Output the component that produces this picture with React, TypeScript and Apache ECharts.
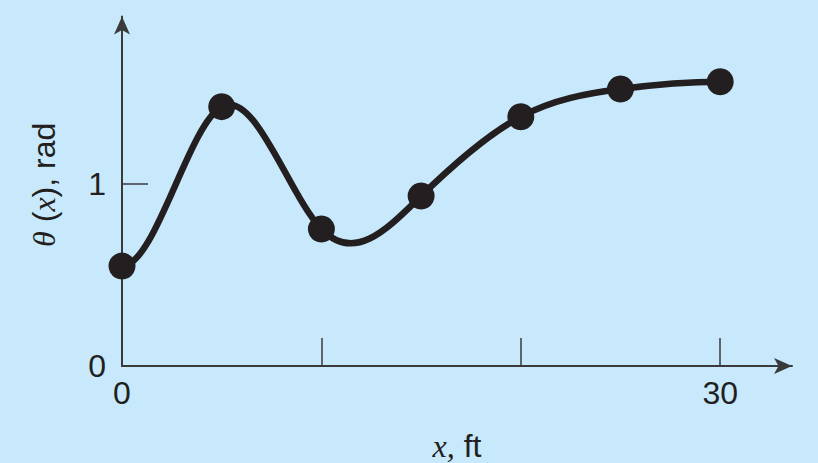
import React, { useEffect, useRef } from "react";
import * as echarts from "echarts";

const xValues = [0, 5, 10, 15, 20, 25, 30];
const thetaValues = [0.549, 1.425, 0.753, 0.934, 1.37, 1.522, 1.562];
const endSlopes = [0, 0];
const xTickValues = [10, 20, 30];
const xLabelValues = [0, 30];
const yTickValues = [1];
const yLabelValues = [0, 1];

const INK = "#231f20";
const AXIS = "#3a3a3a";
const BG = "#c7e9fb";

// clamped cubic spline: slope at each knot
function splineSlopes(xs: number[], ys: number[], s0: number, sn: number): number[] {
  const n = xs.length - 1;
  const h: number[] = [];
  for (let i = 0; i < n; i++) h.push(xs[i + 1] - xs[i]);
  const a: number[] = [], b: number[] = [], c: number[] = [], d: number[] = [];
  a.push(0); b.push(2 * h[0]); c.push(h[0]);
  d.push(6 * ((ys[1] - ys[0]) / h[0] - s0));
  for (let i = 1; i < n; i++) {
    a.push(h[i - 1]);
    b.push(2 * (h[i - 1] + h[i]));
    c.push(h[i]);
    d.push(6 * ((ys[i + 1] - ys[i]) / h[i] - (ys[i] - ys[i - 1]) / h[i - 1]));
  }
  a.push(h[n - 1]); b.push(2 * h[n - 1]); c.push(0);
  d.push(6 * (sn - (ys[n] - ys[n - 1]) / h[n - 1]));
  const m = b.length;
  const cp: number[] = [], dp: number[] = [];
  for (let i = 0; i < m; i++) {
    const den = b[i] - (i > 0 ? a[i] * cp[i - 1] : 0);
    cp.push(c[i] / den);
    dp.push((d[i] - (i > 0 ? a[i] * dp[i - 1] : 0)) / den);
  }
  const M = new Array(m).fill(0);
  for (let i = m - 1; i >= 0; i--) {
    M[i] = dp[i] - (i < m - 1 ? cp[i] * M[i + 1] : 0);
  }
  const slopes: number[] = [];
  for (let i = 0; i < n; i++) {
    slopes.push((ys[i + 1] - ys[i]) / h[i] - (h[i] / 6) * (2 * M[i] + M[i + 1]));
  }
  slopes.push((ys[n] - ys[n - 1]) / h[n - 1] + (h[n - 1] / 6) * (M[n - 1] + 2 * M[n]));
  return slopes;
}

export default function App() {
  const ref = useRef<HTMLDivElement>(null);
  useEffect(() => {
    if (!ref.current) return;
    const chart = echarts.init(ref.current, undefined, { renderer: "svg" });
    const slopes = splineSlopes(xValues, thetaValues, endSlopes[0], endSlopes[1]);
    const points = xValues.map((x, i) => [x, thetaValues[i]]);
    chart.setOption({
      animation: false,
      backgroundColor: BG,
      textStyle: { fontFamily: "'Liberation Sans', Arial, sans-serif" },
      grid: {
        left: 122,
        right: 26,
        top: 16.6,
        bottom: 97,
        containLabel: false,
        outerBoundsMode: "none",
      },
      xAxis: {
        type: "value",
        min: 0,
        max: 33.6,
        name: "{i|x,} ft",
        nameLocation: "middle",
        nameGap: 64,
        nameTextStyle: {
          fontSize: 32,
          color: INK,
          fontFamily: "'Liberation Sans', Arial, sans-serif",
          rich: {
            i: {
              fontSize: 32,
              color: INK,
              fontStyle: "italic",
              fontFamily: "'Liberation Serif', 'Times New Roman', serif",
            },
          },
        },
        axisLine: {
          show: true,
          onZero: false,
          symbol: ["none", "arrow"],
          symbolSize: [12, 18],
          lineStyle: { color: AXIS, width: 2 },
        },
        axisTick: {
          show: true,
          inside: true,
          length: 28,
          customValues: xTickValues,
          lineStyle: { color: AXIS, width: 1.5 },
        },
        axisLabel: {
          customValues: xLabelValues,
          fontSize: 32,
          color: INK,
          margin: 11,
        },
        splitLine: { show: false },
      },
      yAxis: {
        type: "value",
        min: 0,
        max: 1.92,
        name: "{i|θ} ({i|x}), rad",
        nameLocation: "middle",
        nameRotate: 90,
        nameGap: 62,
        nameTextStyle: {
          fontSize: 32,
          color: INK,
          fontFamily: "'Liberation Sans', Arial, sans-serif",
          padding: [0, 0, 0, 13],
          rich: {
            i: {
              fontSize: 32,
              color: INK,
              fontStyle: "italic",
              fontFamily: "'Liberation Serif', 'Times New Roman', serif",
            },
          },
        },
        axisLine: {
          show: true,
          onZero: false,
          symbol: ["none", "arrow"],
          symbolSize: [12, 18],
          lineStyle: { color: AXIS, width: 2 },
        },
        axisTick: {
          show: true,
          inside: true,
          length: 26,
          customValues: yTickValues,
          lineStyle: { color: AXIS, width: 1.5 },
        },
        axisLabel: {
          customValues: yLabelValues,
          fontSize: 32,
          color: INK,
          margin: 16,
        },
        splitLine: { show: false },
      },
      series: [
        {
          type: "custom",
          coordinateSystem: "cartesian2d",
          silent: true,
          clip: false,
          data: [[xValues[0], thetaValues[0]]],
          renderItem: (_params: any, api: any) => {
            const p0 = api.coord([xValues[0], thetaValues[0]]);
            let d = `M${p0[0]},${p0[1]}`;
            for (let i = 0; i < xValues.length - 1; i++) {
              const h = xValues[i + 1] - xValues[i];
              const c1 = api.coord([xValues[i] + h / 3, thetaValues[i] + (h / 3) * slopes[i]]);
              const c2 = api.coord([xValues[i + 1] - h / 3, thetaValues[i + 1] - (h / 3) * slopes[i + 1]]);
              const p = api.coord([xValues[i + 1], thetaValues[i + 1]]);
              d += ` C${c1[0]},${c1[1]} ${c2[0]},${c2[1]} ${p[0]},${p[1]}`;
            }
            return {
              type: "path",
              shape: { pathData: d },
              style: { fill: "none", stroke: INK, lineWidth: 6.5 },
            };
          },
        },
        {
          type: "scatter",
          data: points,
          symbol: "circle",
          symbolSize: 27,
          itemStyle: { color: INK, opacity: 1 },
          z: 5,
          silent: true,
        },
      ],
    });
    return () => chart.dispose();
  }, []);
  return (
    <div
      ref={ref}
      style={{ position: "fixed", left: 0, top: 0, width: 818, height: 463 }}
    />
  );
}
